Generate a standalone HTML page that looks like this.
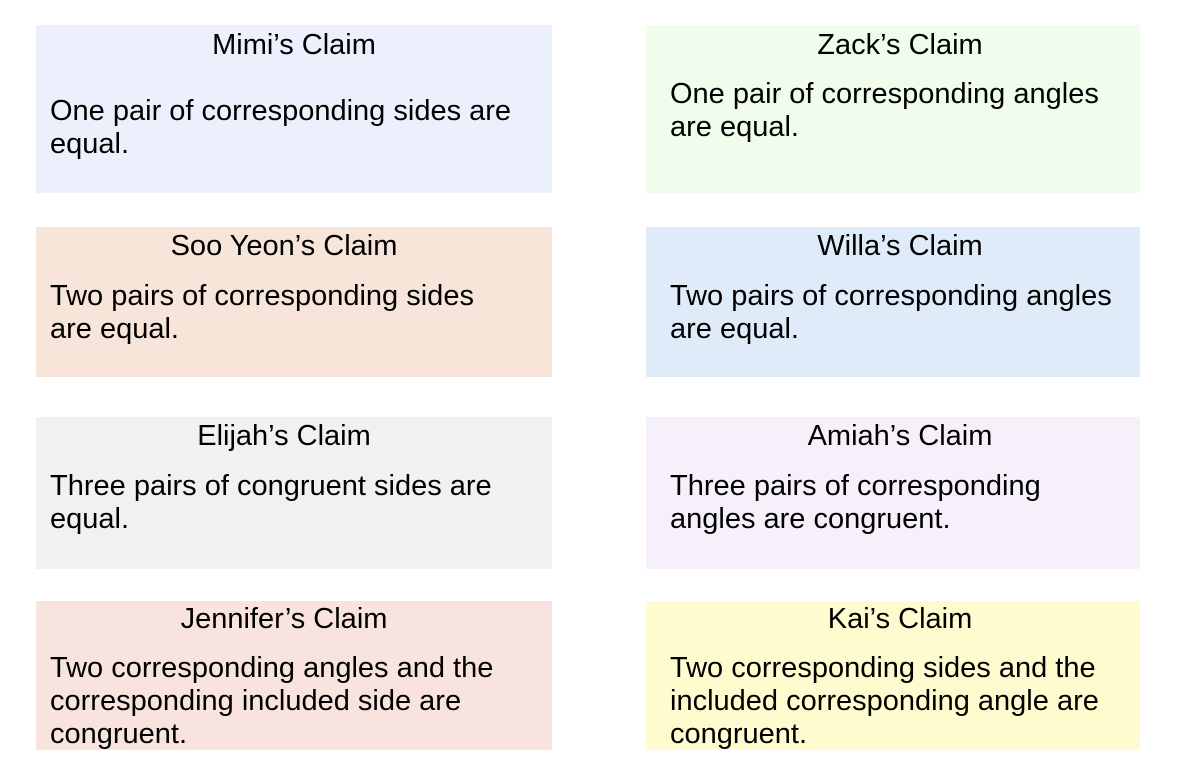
<!DOCTYPE html>
<html><head><style>
body{margin:0;width:1190px;height:774px;background:#fff;position:relative;font-family:"Liberation Sans",Arial,sans-serif;color:#000;overflow:hidden}
.b{position:absolute}
.t{position:absolute;font-size:29px;line-height:33px;white-space:nowrap}
.c{text-align:center}
</style></head><body>
<div class="b" style="left:36px;top:25px;width:516px;height:168px;background:#ecf0fc"></div>
<div class="b" style="left:646px;top:25px;width:494px;height:168px;background:#f0fdec"></div>
<div class="b" style="left:36px;top:227px;width:516px;height:150px;background:#f6e5d8"></div>
<div class="b" style="left:646px;top:227px;width:494px;height:150px;background:#e0ebfa"></div>
<div class="b" style="left:36px;top:417px;width:516px;height:152px;background:#f1f1f1"></div>
<div class="b" style="left:646px;top:417px;width:494px;height:152px;background:#f6f0fa"></div>
<div class="b" style="left:36px;top:601px;width:516px;height:149px;background:#f9e3de"></div>
<div class="b" style="left:646px;top:601px;width:494px;height:149px;background:#fefcce"></div>

<div class="t c" style="left:36px;width:516px;top:29px">Mimi’s Claim</div>
<div class="t" style="left:50px;top:95px">One pair of corresponding sides are<br>equal.</div>
<div class="t c" style="left:646px;width:508px;top:29px">Zack’s Claim</div>
<div class="t" style="left:670px;top:78px">One pair of corresponding angles<br>are equal.</div>

<div class="t c" style="left:36px;width:496px;top:230px">Soo Yeon’s Claim</div>
<div class="t" style="left:50px;top:280px">Two pairs of corresponding sides<br>are equal.</div>
<div class="t c" style="left:646px;width:508px;top:230px">Willa’s Claim</div>
<div class="t" style="left:670px;top:280px">Two pairs of corresponding angles<br>are equal.</div>

<div class="t c" style="left:36px;width:496px;top:420px">Elijah’s Claim</div>
<div class="t" style="left:50px;top:470px">Three pairs of congruent sides are<br>equal.</div>
<div class="t c" style="left:646px;width:508px;top:420px">Amiah’s Claim</div>
<div class="t" style="left:670px;top:470px">Three pairs of corresponding<br>angles are congruent.</div>

<div class="t c" style="left:36px;width:496px;top:603px">Jennifer’s Claim</div>
<div class="t" style="left:50px;top:652px">Two corresponding angles and the<br>corresponding included side are<br>congruent.</div>
<div class="t c" style="left:646px;width:508px;top:603px">Kai’s Claim</div>
<div class="t" style="left:670px;top:652px">Two corresponding sides and the<br>included corresponding angle are<br>congruent.</div>
</body></html>
